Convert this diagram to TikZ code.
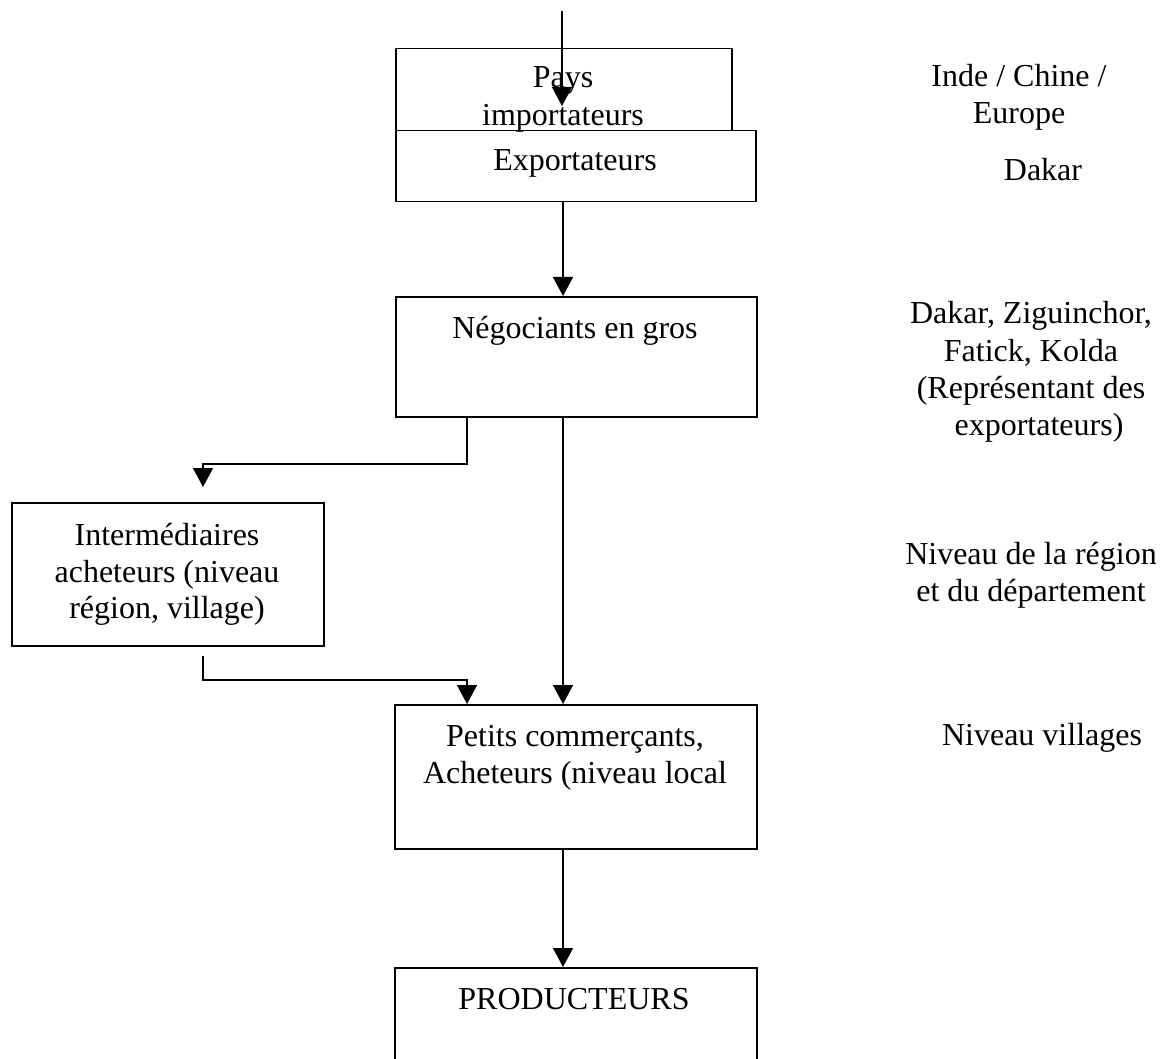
\documentclass[tikz,border=0pt]{standalone}
\usepackage{fontspec}
\setmainfont{Liberation Serif}
\usetikzlibrary{arrows.meta}
\tikzset{
  boxnode/.style={draw, line width=1.5pt, rectangle, inner sep=0pt, anchor=north west},
  txt/.style={font=\fontsize{32}{37}\selectfont, align=center, inner sep=0pt, anchor=base},
  arr/.style={line width=1.5pt, -{Triangle[width=20pt,length=19pt]}},
  conn/.style={line width=1.5pt}
}
\begin{document}
\begin{tikzpicture}[x=1pt,y=-1pt]
\useasboundingbox (0,0) rectangle (1172,1059);
\clip (0,0) rectangle (1172,1059);
% boxes
\node[boxnode, minimum width=336pt, minimum height=82pt] (pays) at (395,48) {};
\node[boxnode, minimum width=360pt, minimum height=71pt] (exp) at (395,130) {};
\node[boxnode, minimum width=361pt, minimum height=120pt] (neg) at (395,296) {};
\node[boxnode, minimum width=312pt, minimum height=143pt] (inter) at (11,502) {};
\node[boxnode, minimum width=362pt, minimum height=144pt] (pet) at (394,704) {};
\node[boxnode, minimum width=362pt, minimum height=130pt] (prod) at (394,967) {};
% box texts
\node[txt] (paysA) at (563,88) {Pays};
\node[txt] (paysB) at (563,126) {importateurs};
\node[txt] (expt) at (575,171) {Exportateurs};
\node[txt] (negt) at (575,338) {Négociants en gros};
\node[txt] (intA) at (167,545) {Intermédiaires};
\node[txt] (intB) at (167,582) {acheteurs (niveau};
\node[txt] (intC) at (167,618) {région, village)};
\node[txt] (petA) at (575,746) {Petits commerçants,};
\node[txt] (petB) at (575,783) {Acheteurs (niveau local};
\node[txt] (prodt) at (574,1009) {PRODUCTEURS};
% right column
\node[txt] (r1a) at (1019,87) {Inde / Chine /};
\node[txt] (r1b) at (1019,124) {Europe};
\node[txt] (r2) at (1043,181) {Dakar};
\node[txt] (r3a) at (1031,323) {Dakar, Ziguinchor,};
\node[txt] (r3b) at (1031,361) {Fatick, Kolda};
\node[txt] (r3c) at (1031,398) {(Représentant des};
\node[txt] (r3d) at (1039,435) {exportateurs)};
\node[txt] (r4a) at (1031,564) {Niveau de la région};
\node[txt] (r4b) at (1031,601) {et du département};
\node[txt] (r5) at (1042,745) {Niveau villages};
% connectors
\coordinate (topin) at (562,11);
\coordinate (paysin) at (562,106);
\coordinate (ax) at (563,0);
\coordinate (j1) at (467,464);
\coordinate (j2) at (203,464);
\coordinate (t3) at (203,487);
\coordinate (s4) at (203,656);
\coordinate (j3) at (203,680);
\coordinate (j4) at (467,680);
\draw[arr] (topin) -- (paysin);
\draw[arr] (ax |- exp.south) -- (ax |- neg.north);
\draw[arr] (neg.south -| j1) -- (j1) -- (j2) -- (t3);
\draw[arr] (s4) -- (j3) -- (j4) -- (j4 |- pet.north);
\draw[arr] (ax |- neg.south) -- (ax |- pet.north);
\draw[arr] (ax |- pet.south) -- (ax |- prod.north);
\end{tikzpicture}
\end{document}
